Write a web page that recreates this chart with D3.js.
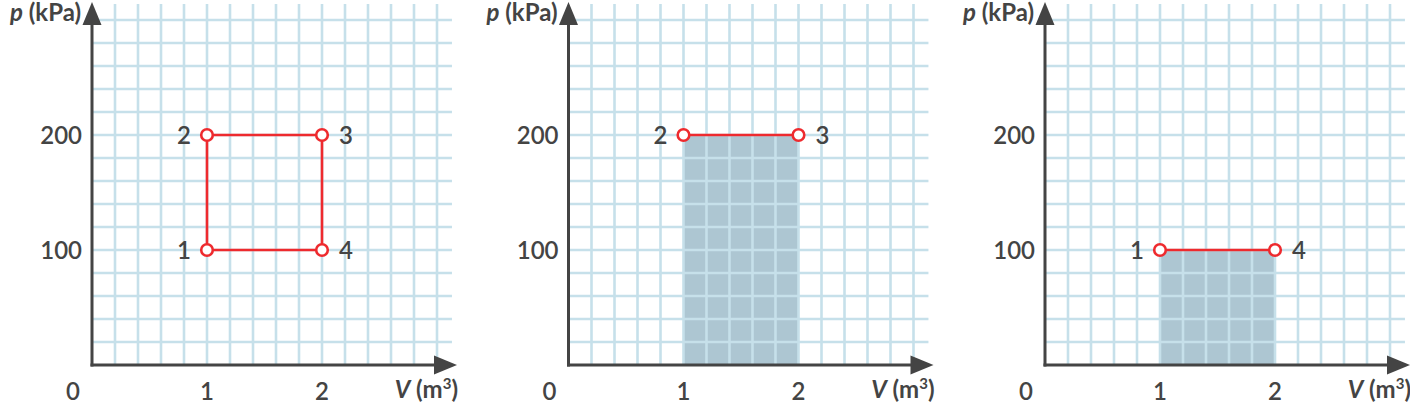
<!DOCTYPE html>
<html>
<head>
<meta charset="utf-8">
<script src="https://cdn.jsdelivr.net/npm/d3@7"></script>
<style>
  html, body { margin: 0; padding: 0; background: #fff; }
  svg { display: block; }
  text { font-family: Lato, "Open Sans", sans-serif; fill: #444; }
</style>
</head>
<body>
<svg id="chart" width="1410" height="405"></svg>
<script>
// ---- data ----
const vTicks = [0, 1, 2];
const pTicks = [100, 200];
const gridV = d3.range(1, 16).map(i => i * 0.2);      // 0.2 .. 3.0 m³
const gridP = d3.range(1, 16).map(i => i * 20);       // 20 .. 300 kPa
const stateNames = ["1", "2", "3", "4"];
const stateV = [1, 1, 2, 2];
const stateP = [100, 200, 200, 100];
const labelSide = ["left", "left", "right", "right"];
// panel 1: full cycle 1-2-3-4-1; panel 2: process 2-3 with work area; panel 3: process 1-4 with work area
const panelStates = [[0, 1, 2, 3, 0], [1, 2], [0, 3]];
const panelShaded = [false, true, true];
const panelOrigins = [92, 568.5, 1045];

// ---- drawing ----
const svg = d3.select("#chart");
const gridColor = "#c6e0ea";
const axisColor = "#444";
const red = "#ee2a2e";
const shade = "#adc6d2";
const fs = 24;

panelOrigins.forEach((ox, pi) => {
  const x = d3.scaleLinear().domain([0, 1]).range([ox, ox + 115]);
  const y = d3.scaleLinear().domain([0, 100]).range([365, 250]);
  const g = svg.append("g");

  const idx = panelStates[pi];
  // shaded work area
  if (panelShaded[pi]) {
    const v0 = d3.min(idx, i => stateV[i]), v1 = d3.max(idx, i => stateV[i]);
    const pTop = stateP[idx[0]];
    g.append("rect")
      .attr("x", x(v0)).attr("y", y(pTop))
      .attr("width", x(v1) - x(v0)).attr("height", y(0) - y(pTop))
      .attr("fill", shade);
  }

  // grid
  g.selectAll(".gv").data(gridV).join("line")
    .attr("x1", d => x(d)).attr("x2", d => x(d))
    .attr("y1", y(0)).attr("y2", y(314))
    .attr("stroke", gridColor).attr("stroke-width", 2.6);
  g.selectAll(".gh").data(gridP).join("line")
    .attr("x1", x(0)).attr("x2", x(3.13))
    .attr("y1", d => y(d)).attr("y2", d => y(d))
    .attr("stroke", gridColor).attr("stroke-width", 2.6);

  // axes
  g.append("line").attr("x1", x(0)).attr("x2", x(0))
    .attr("y1", y(0) + 1.5).attr("y2", y(300))
    .attr("stroke", axisColor).attr("stroke-width", 3);
  g.append("line").attr("x1", x(0) - 1.5).attr("x2", x(3.05))
    .attr("y1", y(0)).attr("y2", y(0))
    .attr("stroke", axisColor).attr("stroke-width", 3);
  // arrowheads
  const ax = x(0), ayTop = 2;
  g.append("path")
    .attr("d", `M${ax},${ayTop} L${ax + 9.5},${ayTop + 23} L${ax - 9.5},${ayTop + 23} Z`)
    .attr("fill", axisColor);
  const tipX = x(0) + 365, ay = y(0);
  g.append("path")
    .attr("d", `M${tipX},${ay} L${tipX - 23},${ay - 9.5} L${tipX - 23},${ay + 9.5} Z`)
    .attr("fill", axisColor);

  // tick labels
  g.selectAll(".xt").data(vTicks).join("text")
    .attr("x", d => d === 0 ? x(0) - 19 : x(d))
    .attr("y", 400)
    .attr("text-anchor", "middle")
    .attr("font-size", fs).attr("font-weight", 600)
    .text(d => d);
  g.selectAll(".yt").data(pTicks).join("text")
    .attr("x", x(0) - 10)
    .attr("y", d => y(d) + 8.5)
    .attr("text-anchor", "end")
    .attr("font-size", fs).attr("font-weight", 600)
    .text(d => d);

  // axis titles
  const pt = g.append("text").attr("x", x(0) - 11).attr("y", 21)
    .attr("text-anchor", "end").attr("font-size", fs).attr("font-weight", 700);
  pt.append("tspan").attr("font-style", "italic").text("p");
  pt.append("tspan").text(" (kPa)");
  const vt = g.append("text").attr("x", x(0) + 366).attr("y", 398)
    .attr("text-anchor", "end").attr("font-size", fs).attr("font-weight", 700);
  vt.append("tspan").attr("font-style", "italic").text("V");
  vt.append("tspan").text(" (m");
  vt.append("tspan").attr("font-size", 15).attr("dy", -9).text("3");
  vt.append("tspan").attr("dy", 9).text(")");

  // process line(s)
  const line = d3.line().x(i => x(stateV[i])).y(i => y(stateP[i]));
  g.append("path").datum(idx).attr("d", line)
    .attr("fill", "none").attr("stroke", red).attr("stroke-width", 2.6);

  // state points
  const uniq = Array.from(new Set(idx));
  g.selectAll(".pt").data(uniq).join("circle")
    .attr("cx", i => x(stateV[i])).attr("cy", i => y(stateP[i]))
    .attr("r", 5.8).attr("fill", "#fff").attr("stroke", red).attr("stroke-width", 2.6);
  g.selectAll(".pl").data(uniq).join("text")
    .attr("x", i => x(stateV[i]) + (labelSide[i] === "left" ? -16 : 17))
    .attr("y", i => y(stateP[i]) + 8.5)
    .attr("text-anchor", i => labelSide[i] === "left" ? "end" : "start")
    .attr("font-size", fs).attr("font-weight", 600)
    .text(i => stateNames[i]);
});
</script>
</body>
</html>
